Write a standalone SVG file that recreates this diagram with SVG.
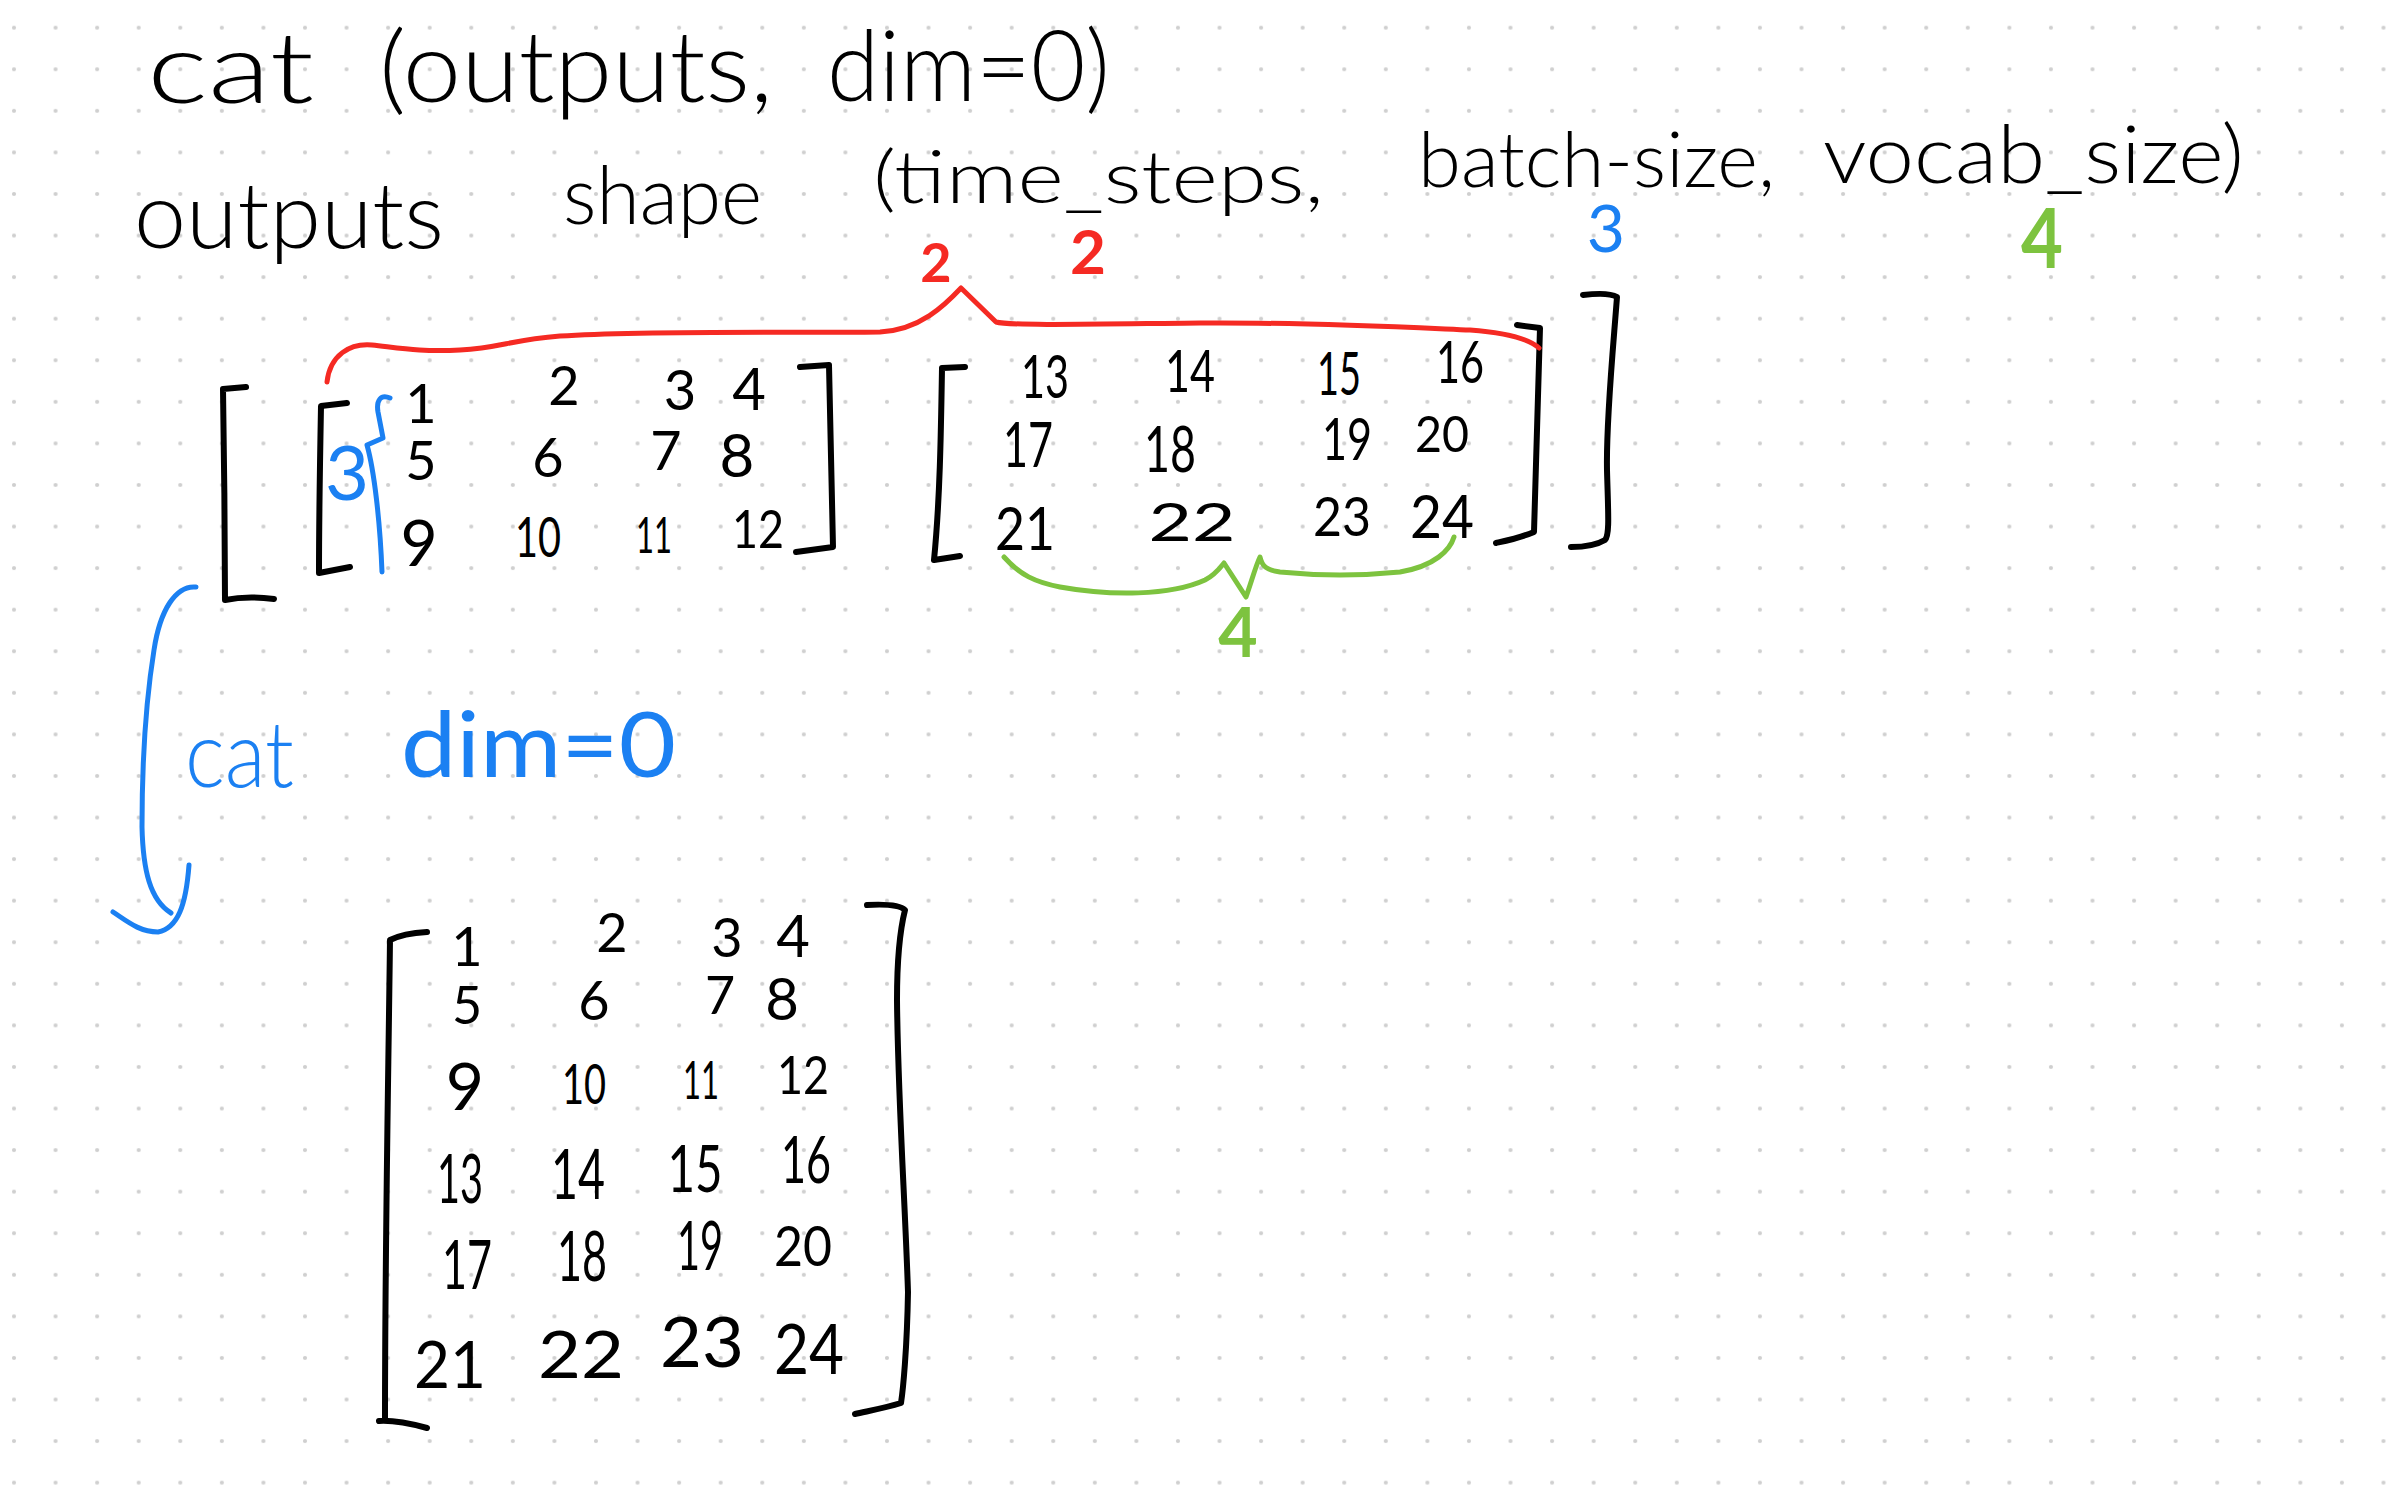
<svg xmlns="http://www.w3.org/2000/svg" width="2386" height="1491" viewBox="0 0 2386 1491">
<defs>
<pattern id="dots" x="14" y="27.7" width="41.57" height="41.57" patternUnits="userSpaceOnUse">
<circle cx="0" cy="0" r="2.1" fill="#cfcfcf"/>
<circle cx="41.57" cy="0" r="2.1" fill="#cfcfcf"/>
<circle cx="0" cy="41.57" r="2.1" fill="#cfcfcf"/>
<circle cx="41.57" cy="41.57" r="2.1" fill="#cfcfcf"/>
</pattern>
<style>
text{font-family:Lato,"Liberation Sans",Arial,sans-serif;}
.k{fill:#000;font-weight:300;}
.n{fill:#000;text-anchor:middle;font-weight:400;}
.b{fill:#1b80f2;font-weight:400;}
.bl{fill:#1b80f2;font-weight:300;}
.r{fill:#f52a23;font-weight:700;}
.g{fill:#7dc33f;font-weight:700;}
.ink{fill:none;stroke:#000;stroke-width:6;stroke-linecap:round;stroke-linejoin:round;}
.blue{fill:none;stroke:#1b80f2;stroke-width:5;stroke-linecap:round;stroke-linejoin:round;}
.red{fill:none;stroke:#f52a23;stroke-width:5;stroke-linecap:round;stroke-linejoin:round;}
.green{fill:none;stroke:#7dc33f;stroke-width:5;stroke-linecap:round;stroke-linejoin:round;}
</style>
</defs>
<rect width="2386" height="1491" fill="#ffffff"/>
<rect width="2386" height="1491" fill="url(#dots)"/>

<g id="title">
<text class="k" x="147" y="103" font-size="98" textLength="167" lengthAdjust="spacingAndGlyphs">cat</text>
<text class="k" x="379" y="102" font-size="98" textLength="394" lengthAdjust="spacingAndGlyphs">(outputs,</text>
<text class="k" x="827" y="101" font-size="98" textLength="283" lengthAdjust="spacingAndGlyphs">dim=0)</text>
</g>

<g id="shape-line">
<text class="k" x="134" y="248" font-size="92" textLength="310" lengthAdjust="spacingAndGlyphs">outputs</text>
<text class="k" x="563" y="224" font-size="80" textLength="199" lengthAdjust="spacingAndGlyphs">shape</text>
<text class="k" x="873" y="203" font-size="72" textLength="451" lengthAdjust="spacingAndGlyphs">(time_steps,</text>
<text class="k" x="1418" y="187" font-size="76" textLength="357" lengthAdjust="spacingAndGlyphs">batch-size,</text>
<text class="k" x="1823" y="183" font-size="80" textLength="421" lengthAdjust="spacingAndGlyphs">vocab_size)</text>
</g>

<g id="dim-labels">
<text class="r" x="936" y="282" font-size="54" text-anchor="middle">2</text>
<text class="r" x="1088" y="274" font-size="62" text-anchor="middle">2</text>
<text class="b" x="1606" y="252" font-size="66" text-anchor="middle">3</text>
<text class="g" x="2042" y="268" font-size="82" text-anchor="middle" textLength="42" lengthAdjust="spacingAndGlyphs">4</text>
</g>

<g id="outer-tensor">
<path class="ink" d="M246,387 L223,389 C224,450 225,540 225,600 C240,597 258,597 274,599"/>
<path class="ink" d="M1583,295 C1600,293 1612,294 1617,297 C1613,350 1606,420 1607,470 C1608,510 1610,535 1605,540 C1595,546 1580,547 1571,547"/>
</g>

<g id="matrix-1">
<path class="ink" d="M347,403 L321,406 C320,460 319,520 319,573 L350,567"/>
<path class="ink" d="M800,367 L829,365 C831,430 832,490 833,547 L796,552"/>
<text class="n" x="421" y="423" font-size="54">1</text>
<text class="n" x="564" y="405" font-size="54">2</text>
<text class="n" x="680" y="410" font-size="56">3</text>
<text class="n" x="749" y="410" font-size="58">4</text>
<text class="n" x="421" y="480" font-size="54">5</text>
<text class="n" x="548" y="477" font-size="54">6</text>
<text class="n" x="666" y="470" font-size="54">7</text>
<text class="n" x="737" y="477" font-size="60">8</text>
<text class="n" x="419" y="566" font-size="64">9</text>
<text class="n" x="538" y="557" font-size="56" textLength="46" lengthAdjust="spacingAndGlyphs">10</text>
<text class="n" x="654" y="553" font-size="50" textLength="36" lengthAdjust="spacingAndGlyphs">11</text>
<text class="n" x="758" y="548" font-size="52" textLength="52" lengthAdjust="spacingAndGlyphs">12</text>
</g>

<g id="batch-brace">
<path class="blue" d="M390,398 C381,394 376,400 378,412 L383,438 L367,445 C374,470 380,520 382,572"/>
<text class="b" x="347" y="500" font-size="76" text-anchor="middle">3</text>
</g>

<g id="matrix-2">
<path class="ink" d="M965,367 L942,368 C941,430 940,500 934,560 L960,556"/>
<path class="ink" d="M1517,325 L1540,328 C1538,400 1536,470 1534,532 C1520,538 1505,541 1496,543"/>
<text class="n" x="1045" y="398" font-size="60" textLength="48" lengthAdjust="spacingAndGlyphs">13</text>
<text class="n" x="1190" y="392" font-size="58" textLength="50" lengthAdjust="spacingAndGlyphs">14</text>
<text class="n" x="1339" y="395" font-size="60" textLength="44" lengthAdjust="spacingAndGlyphs">15</text>
<text class="n" x="1460" y="383" font-size="58" textLength="48" lengthAdjust="spacingAndGlyphs">16</text>
<text class="n" x="1028" y="467" font-size="62" textLength="50" lengthAdjust="spacingAndGlyphs">17</text>
<text class="n" x="1170" y="472" font-size="64" textLength="52" lengthAdjust="spacingAndGlyphs">18</text>
<text class="n" x="1347" y="460" font-size="58" textLength="50" lengthAdjust="spacingAndGlyphs">19</text>
<text class="n" x="1442" y="452" font-size="50" textLength="54" lengthAdjust="spacingAndGlyphs">20</text>
<text class="n" x="1025" y="550" font-size="60" textLength="60" lengthAdjust="spacingAndGlyphs">21</text>
<text class="n" x="1192" y="541" font-size="52" textLength="87" lengthAdjust="spacingAndGlyphs">22</text>
<text class="n" x="1342" y="536" font-size="54" textLength="58" lengthAdjust="spacingAndGlyphs">23</text>
<text class="n" x="1442" y="538" font-size="60" textLength="64" lengthAdjust="spacingAndGlyphs">24</text>
</g>

<g id="time-brace">
<path class="red" d="M327,382 C330,355 350,343 372,345 C400,348 420,352 460,350 C500,348 510,340 560,336 C650,330 800,333 880,332 C920,330 945,305 961,288 L996,322 C1010,326 1100,324 1200,323 C1300,322 1420,328 1470,330 C1510,333 1530,340 1539,348"/>
</g>

<g id="vocab-brace">
<path class="green" d="M1004,557 C1020,575 1035,582 1060,587 C1110,596 1170,596 1205,580 C1215,575 1220,568 1224,563 L1246,597 C1252,580 1256,565 1260,557 C1262,566 1266,570 1280,572 C1320,576 1360,576 1400,572 C1435,566 1450,550 1454,537"/>
<text class="g" x="1238" y="657" font-size="68" text-anchor="middle">4</text>
</g>

<g id="connectors">
<path class="blue" d="M196,587 C176,585 160,610 154,650 C146,700 142,760 142,827 C143,870 150,900 171,913"/>
<path class="blue" d="M113,912 C128,922 140,932 158,932 C178,928 186,905 189,865"/>
</g>

<g id="cat-label">
<text class="bl" x="185" y="787" font-size="92" textLength="109" lengthAdjust="spacingAndGlyphs">cat</text>
<text class="b" x="401" y="777" font-size="92" textLength="275" lengthAdjust="spacingAndGlyphs">dim=0</text>
</g>

<g id="result-matrix">
<path class="ink" d="M427,932 C410,933 398,936 390,940 C388,1100 385,1250 385,1421 M379,1421 C395,1420 412,1424 427,1428"/>
<path class="ink" d="M867,905 C885,904 900,905 905,910 C900,930 897,960 897,1000 C898,1100 905,1200 908,1292 C907,1350 903,1390 901,1403 C885,1408 868,1411 855,1414"/>
<text class="n" x="467" y="966" font-size="54">1</text>
<text class="n" x="612" y="952" font-size="54">2</text>
<text class="n" x="727" y="957" font-size="54">3</text>
<text class="n" x="793" y="957" font-size="58">4</text>
<text class="n" x="467" y="1024" font-size="52">5</text>
<text class="n" x="594" y="1020" font-size="54">6</text>
<text class="n" x="720" y="1014" font-size="52">7</text>
<text class="n" x="782" y="1020" font-size="58">8</text>
<text class="n" x="465" y="1110" font-size="66">9</text>
<text class="n" x="584" y="1104" font-size="56" textLength="44" lengthAdjust="spacingAndGlyphs">10</text>
<text class="n" x="701" y="1099" font-size="52" textLength="36" lengthAdjust="spacingAndGlyphs">11</text>
<text class="n" x="803" y="1094" font-size="52" textLength="52" lengthAdjust="spacingAndGlyphs">12</text>
<text class="n" x="460" y="1203" font-size="68" textLength="46" lengthAdjust="spacingAndGlyphs">13</text>
<text class="n" x="578" y="1199" font-size="70" textLength="54" lengthAdjust="spacingAndGlyphs">14</text>
<text class="n" x="695" y="1192" font-size="66" textLength="55" lengthAdjust="spacingAndGlyphs">15</text>
<text class="n" x="806" y="1183" font-size="66" textLength="50" lengthAdjust="spacingAndGlyphs">16</text>
<text class="n" x="467" y="1289" font-size="68" textLength="50" lengthAdjust="spacingAndGlyphs">17</text>
<text class="n" x="582" y="1281" font-size="70" textLength="50" lengthAdjust="spacingAndGlyphs">18</text>
<text class="n" x="700" y="1270" font-size="68" textLength="46" lengthAdjust="spacingAndGlyphs">19</text>
<text class="n" x="803" y="1266" font-size="56" textLength="58" lengthAdjust="spacingAndGlyphs">20</text>
<text class="n" x="450" y="1388" font-size="66" textLength="72" lengthAdjust="spacingAndGlyphs">21</text>
<text class="n" x="581" y="1378" font-size="66" textLength="86" lengthAdjust="spacingAndGlyphs">22</text>
<text class="n" x="702" y="1367" font-size="70" textLength="84" lengthAdjust="spacingAndGlyphs">23</text>
<text class="n" x="809" y="1374" font-size="70" textLength="70" lengthAdjust="spacingAndGlyphs">24</text>
</g>
</svg>
